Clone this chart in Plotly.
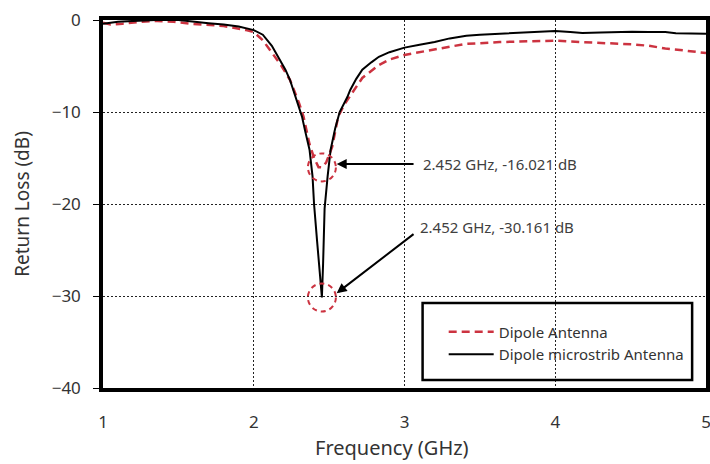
import plotly.graph_objects as go

# Dipole microstrib Antenna (black solid)
freq_ms = [1.0, 1.1, 1.2, 1.35, 1.5, 1.6, 1.7, 1.8, 1.9, 2.0, 2.06, 2.12, 2.17, 2.21, 2.24,
           2.27, 2.30, 2.32, 2.34, 2.37, 2.39, 2.40, 2.42, 2.44, 2.452, 2.46, 2.47, 2.49,
           2.51, 2.54, 2.57, 2.62, 2.64, 2.68, 2.72, 2.78, 2.83, 2.9, 3.0, 3.1, 3.2, 3.3,
           3.41, 3.5, 3.63, 3.75, 3.85, 4.0, 4.1, 4.18, 4.3, 4.4, 4.51, 4.62, 4.73, 4.8,
           4.9, 5.0]
rl_ms = [-0.4, -0.2, -0.1, 0.0, 0.0, -0.2, -0.35, -0.5, -0.7, -1.1, -1.6, -2.8, -4.3, -5.4,
         -6.5, -8.0, -9.5, -10.5, -12.0, -14.1, -17.0, -20.0, -24.0, -28.0, -30.161, -26.5,
         -20.5, -17.0, -14.1, -11.8, -10.0, -8.4, -7.6, -6.4, -5.4, -4.6, -4.0, -3.5, -3.0,
         -2.7, -2.4, -2.0, -1.7, -1.6, -1.5, -1.4, -1.3, -1.2, -1.3, -1.4, -1.35, -1.3,
         -1.27, -1.3, -1.3, -1.45, -1.5, -1.5]

# Dipole Antenna (red dashed)
freq_d = [1.0, 1.05, 1.13, 1.25, 1.36, 1.47, 1.58, 1.7, 1.8, 1.95, 2.0, 2.06, 2.12, 2.18,
          2.24, 2.27, 2.30, 2.33, 2.37, 2.40, 2.43, 2.452, 2.48, 2.52, 2.56, 2.6, 2.64,
          2.72, 2.83, 2.9, 3.0, 3.19, 3.3, 3.41, 3.63, 3.85, 4.0, 4.18, 4.35, 4.51, 4.62,
          4.73, 4.85, 4.95, 5.0]
rl_d = [-0.3, -0.5, -0.4, -0.2, -0.1, -0.2, -0.4, -0.5, -0.65, -1.1, -1.3, -2.2, -3.5, -4.9,
        -6.5, -7.7, -9.0, -10.5, -13.5, -15.0, -16.0, -16.021, -15.5, -13.8, -10.5, -9.2,
        -8.2, -6.3, -4.9, -4.3, -3.8, -3.2, -2.9, -2.6, -2.4, -2.3, -2.25, -2.4, -2.5,
        -2.65, -2.8, -3.1, -3.3, -3.5, -3.6]

x_ticks = [1, 2, 3, 4, 5]
y_ticks = [0, -10, -20, -30, -40]

FONT = "Noto Sans"
RED = "#cc3340"
TXT = "#333333"

fig = go.Figure()
fig.add_trace(go.Scatter(x=freq_d, y=rl_d, mode="lines", name="Dipole Antenna",
                         line=dict(color=RED, width=2.5, dash="8px,5px")))
fig.add_trace(go.Scatter(x=freq_ms, y=rl_ms, mode="lines", name="Dipole microstrib Antenna",
                         line=dict(color="black", width=2)))

# minima
i_d = rl_d.index(min(rl_d))
i_ms = rl_ms.index(min(rl_ms))
min_d = (freq_d[i_d], rl_d[i_d])
min_ms = (freq_ms[i_ms], rl_ms[i_ms])

shapes = []
for (mx, my) in (min_d, min_ms):
    shapes.append(dict(type="circle", xref="x", yref="y", xsizemode="pixel", ysizemode="pixel",
                       xanchor=mx, yanchor=my, x0=-14, x1=14, y0=-14, y1=14,
                       line=dict(color=RED, width=2, dash="5px,4px")))
# legend frame
shapes.append(dict(type="rect", xref="paper", yref="paper", x0=0.53, x1=0.977, y0=0.022, y1=0.231,
                   line=dict(color="black", width=2.5)))

annotations = [
    dict(x=2.55, y=-15.65, ax=3.07, ay=-15.65, xref="x", yref="y", axref="x", ayref="y",
         text="", showarrow=True, arrowhead=2, arrowsize=1, arrowwidth=2, arrowcolor="black"),
    dict(x=3.11, y=-15.65, xref="x", yref="y", xanchor="left", showarrow=False,
         text=f"{min_d[0]:.3f} GHz, {min_d[1]:.3f} dB", font=dict(family=FONT, size=15, color="#404040")),
    dict(x=2.55, y=-29.7, ax=3.07, ay=-23.15, xref="x", yref="y", axref="x", ayref="y",
         text="", showarrow=True, arrowhead=2, arrowsize=1, arrowwidth=2, arrowcolor="black"),
    dict(x=3.09, y=-22.5, xref="x", yref="y", xanchor="left", showarrow=False,
         text=f"{min_ms[0]:.3f} GHz, {min_ms[1]:.3f} dB", font=dict(family=FONT, size=15, color="#404040")),
    # x-axis title
    dict(x=0.48, y=-0.162, xref="paper", yref="paper", xanchor="center", yanchor="middle",
         showarrow=False, text="Frequency (GHz)", font=dict(family=FONT, size=20, color=TXT)),
]

fig.update_layout(
    width=710, height=464,
    margin=dict(l=103, r=4, t=20, b=76, autoexpand=False),
    paper_bgcolor="white", plot_bgcolor="white",
    font=dict(family=FONT, size=17, color=TXT),
    shapes=shapes, annotations=annotations,
    legend=dict(x=0.565, y=0.197, xanchor="left", yanchor="top", bgcolor="rgba(0,0,0,0)",
                itemwidth=45, font=dict(family=FONT, size=15, color=TXT), tracegroupgap=0),
    xaxis=dict(range=[1, 5], tickvals=x_ticks, ticks="", ticklabelstandoff=16,
               ticklabeloverflow="allow",
               showgrid=True, gridcolor="#222222", gridwidth=1, griddash="2px,2px",
               showline=True, linecolor="black", linewidth=3.5, mirror=True, zeroline=False),
    yaxis=dict(range=[-40, 0], tickvals=y_ticks, ticks="outside", ticklen=6, tickcolor="black",
               ticklabelstandoff=9,
               showgrid=True, gridcolor="#222222", gridwidth=1, griddash="2px,2px",
               showline=True, linecolor="black", linewidth=3.5, mirror=True, zeroline=False,
               title=dict(text="Return Loss (dB)", font=dict(family=FONT, size=19, color=TXT), standoff=18)),
)

fig.write_html("out.html", config={"displayModeBar": False},
               post_script="document.body.style.margin='0';")
